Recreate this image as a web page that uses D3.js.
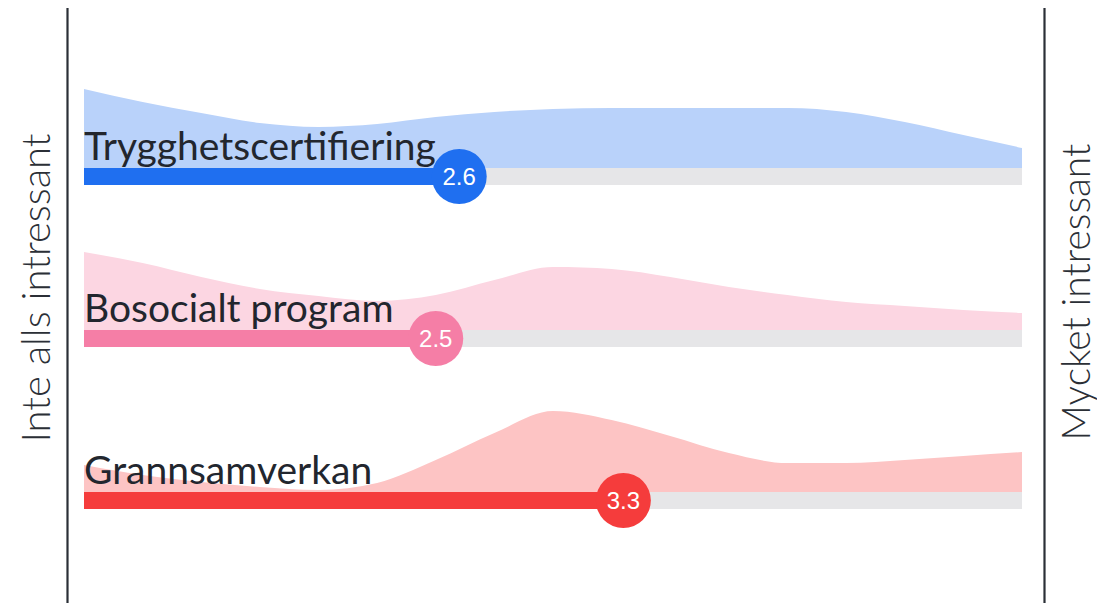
<!DOCTYPE html>
<html>
<head>
<meta charset="utf-8">
<script src="https://cdn.jsdelivr.net/npm/d3@7"></script>
<style>
  html, body { margin: 0; padding: 0; background: #fff; }
  svg { display: block; }
</style>
</head>
<body>
<svg id="chart" width="1097" height="603"></svg>
<script>
// ---- data ----
const categories = ["Trygghetscertifiering", "Bosocialt program", "Grannsamverkan"];
const means = [2.6, 2.5, 3.3];
const scalePoints = [1, 1.25, 1.5, 1.75, 2, 2.25, 2.5, 2.75, 3, 3.25, 3.5, 3.75, 4, 4.25, 4.5, 4.75, 5];
const densityTrygghet = [79, 66, 55, 45, 41, 44, 51, 56, 59, 60, 60, 60, 60, 56, 46, 33, 20];
const densityBosocialt = [78, 67, 53, 41, 34, 29, 35, 50, 63, 61, 53, 43, 35, 28, 24, 20, 17];
const densityGrannsam = [27, 17, 10, 5, 2, 9, 32, 59, 81, 72, 56, 39, 29, 29, 32, 36, 40];
const densities = [densityTrygghet, densityBosocialt, densityGrannsam];
const barColors = ["#1f6ff0", "#f57ea6", "#f53c3c"];
const areaColors = ["#b9d2fa", "#fcd6e2", "#fdc4c4"];
const leftLabel = "Inte alls intressant";
const rightLabel = "Mycket intressant";

// ---- layout ----
const svg = d3.select("#chart");
const x = d3.scaleLinear().domain([1, 5]).range([84, 1022]);
const rowY = d3.scalePoint().domain(categories).range([168, 492]);
const h = d3.scaleLinear().domain([0, 80]).range([0, 80]);
const barH = 17;

// side rules
[67.5, 1044.5].forEach(xx => {
  svg.append("line").attr("x1", xx).attr("x2", xx).attr("y1", 8).attr("y2", 603)
    .attr("stroke", "#2b2f36").attr("stroke-width", 2.2);
});

svg.append("text")
  .attr("transform", "translate(50,288) rotate(-90)")
  .attr("text-anchor", "middle")
  .attr("font-family", "Lato, 'Noto Sans', sans-serif")
  .attr("font-weight", 300)
  .attr("font-size", 40)
  .attr("fill", "#2b2f36")
  .text(leftLabel);

svg.append("text")
  .attr("transform", "translate(1090,292) rotate(-90)")
  .attr("text-anchor", "middle")
  .attr("font-family", "Lato, 'Noto Sans', sans-serif")
  .attr("font-weight", 300)
  .attr("font-size", 39)
  .attr("fill", "#2b2f36")
  .text(rightLabel);

categories.forEach((cat, i) => {
  const base = rowY(cat);
  const g = svg.append("g");
  const pts = scalePoints.map((s, j) => ({ s, v: densities[i][j] }));
  const area = d3.area()
    .x(d => x(d.s))
    .y0(base)
    .y1(d => base - h(d.v))
    .curve(d3.curveMonotoneX);
  g.append("path").datum(pts).attr("d", area).attr("fill", areaColors[i]);

  // track
  g.append("rect").attr("x", x(1)).attr("y", base).attr("width", x(5) - x(1)).attr("height", barH)
    .attr("fill", "#e6e6e8");
  // value bar
  g.append("rect").attr("x", x(1)).attr("y", base).attr("width", x(means[i]) - x(1)).attr("height", barH)
    .attr("fill", barColors[i]);

  // label
  g.append("text")
    .attr("x", x(1))
    .attr("y", base - 8)
    .attr("font-family", "Lato, 'Noto Sans', sans-serif")
    .attr("font-size", 39)
    .attr("fill", "#22262e")
    .text(cat);

  // marker
  g.append("circle").attr("cx", x(means[i])).attr("cy", base + barH / 2).attr("r", 27.5)
    .attr("fill", barColors[i]);
  g.append("text")
    .attr("x", x(means[i]))
    .attr("y", base + barH / 2)
    .attr("dy", "0.36em")
    .attr("text-anchor", "middle")
    .attr("font-family", "'Liberation Sans', Arial, sans-serif")
    .attr("font-size", 24)
    .attr("fill", "#fff")
    .text(d3.format(".1f")(means[i]));
});
</script>
</body>
</html>
